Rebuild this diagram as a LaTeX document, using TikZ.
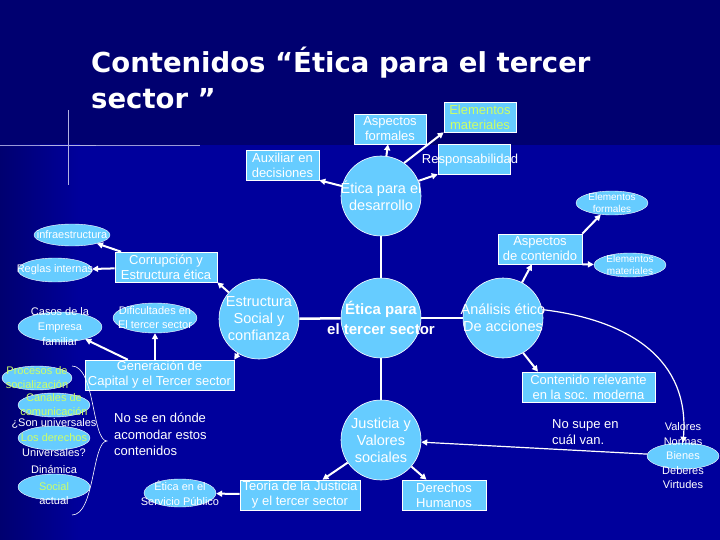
\documentclass[tikz,border=0pt]{standalone}
\usepackage{fontspec}
\setmainfont{Liberation Sans}
\newfontfamily\titlefont{DejaVu Sans}
\usetikzlibrary{shapes.geometric,arrows.meta}
\definecolor{bgtop}{HTML}{000070}
\definecolor{bgmain}{HTML}{00009C}
\definecolor{lb}{HTML}{66CCFF}
\definecolor{ylw}{HTML}{CCFF66}
\tikzset{
 circ/.style={circle,fill=lb,draw=white,line width=0.6pt,minimum size=80pt,inner sep=0pt},
 ctext/.style={text=white,align=center,inner sep=0pt,font=\fontsize{14.5}{17}\selectfont},
 rbox/.style={rectangle,fill=lb,draw=white,line width=0.6pt,inner sep=0pt,text=white,align=center,font=\fontsize{13}{15}\selectfont},
 ell/.style={ellipse,fill=lb,draw=white,line width=0.4pt,inner sep=0pt},
 txt/.style={text=white,align=center,inner sep=0pt,font=\fontsize{11}{14}\selectfont},
 arr/.style={draw=white,line width=2pt,-{Triangle[length=6pt,width=6pt]}},
 lin/.style={draw=white,line width=2.5pt},
}
\begin{document}
\begin{tikzpicture}[x=1pt,y=-1pt]
\useasboundingbox (0,0) rectangle (720,540);
\fill[bgmain] (0,0) rectangle (720,540);
\fill[bgtop] (0,0) rectangle (720,145);
\fill[left color=bgtop,right color=bgmain] (0,145) rectangle (80,540);
\draw[white!60!bgmain,line width=0.5pt] (0,145) -- (200,145);
\draw[white!70!bgmain,line width=0.6pt] (68,110) -- (68,185);
\draw[white!70!bgmain,line width=0.6pt] (40,145) -- (96,145);
% title
\node[anchor=west,text=white,inner sep=0pt,font=\titlefont\bfseries\fontsize{27.5}{30}\selectfont] (t1) at (91,63) {Contenidos “Ética para el tercer};
\node[anchor=west,text=white,inner sep=0pt,font=\titlefont\bfseries\fontsize{27.5}{30}\selectfont] (t2) at (91,99) {sector ”};
% circles
\node[circ] (des) at (381,196) {};
\node[ctext] (dest) at (381,196) {Ética para el\\desarrollo};
\node[circ] (ter) at (381,318) {};
\node[ctext,font=\bfseries\fontsize{15}{20}\selectfont] (tert) at (381,318) {Ética para\\el tercer sector};
\node[circ] (est) at (259,319) {};
\node[ctext] (estt) at (259,319) {Estructura\\Social y\\confianza};
\node[circ] (ana) at (503,318) {};
\node[ctext] (anat) at (503,318) {Análisis ético\\De acciones};
\node[circ] (jus) at (381,440) {};
\node[ctext] (just) at (381,440) {Justicia y\\Valores\\sociales};
% top boxes
\node[rbox,minimum width=72pt,minimum height=30pt] (asf) at (390,129) {Aspectos\\formales};
\node[rbox,minimum width=72pt,minimum height=30pt,text=ylw] (elm) at (480,117) {Elementos\\materiales};
\node[rbox,minimum width=73pt,minimum height=30pt] (aux) at (282.5,165) {Auxiliar en\\decisiones};
\node[rbox,minimum width=72pt,minimum height=30pt] (res) at (474,159) {};
\node[txt,font=\fontsize{13}{15}\selectfont] (rest) at (470,160) {Responsabilidad};
\node[rbox,minimum width=84pt,minimum height=30pt] (asc) at (540,249) {Aspectos\\de contenido};
\node[ell,minimum width=72pt,minimum height=24pt] (elf) at (612,203) {};
\node[txt,font=\fontsize{10}{12}\selectfont] (elft) at (612,203) {Elementos\\formales};
\node[ell,minimum width=72pt,minimum height=24pt] (elm2) at (630,265) {};
\node[txt,font=\fontsize{10}{12}\selectfont] (elm2t) at (630,265) {Elementos\\materiales};
\node[rbox,minimum width=133pt,minimum height=30pt] (con) at (588.5,387) {Contenido relevante\\en la soc. moderna};
\node[rbox,minimum width=84pt,minimum height=30pt] (der) at (444,495) {Derechos\\Humanos};
\node[rbox,minimum width=120pt,minimum height=30pt] (teo) at (300,495) {Teoría de la Justicia\\y el tercer sector};
\node[ell,minimum width=72pt,minimum height=28pt] (ser) at (180,493) {};
\node[txt,font=\fontsize{11}{15}\selectfont] (sert) at (180,493) {Ética en el\\Servicio Público};
\node[ell,minimum width=72pt,minimum height=26pt] (val) at (683,456) {};
\node[txt,font=\fontsize{11}{14.5}\selectfont] (valt) at (683,456) {Valores\\Normas\\Bienes\\Deberes\\Virtudes};
\node[txt,anchor=north west,align=left,font=\fontsize{13}{16}\selectfont] (nos) at (552,419) {No supe en\\cuál van.};
% left side
\node[ell,minimum width=76pt,minimum height=22pt] (inf) at (72,235) {};
\node[txt] (inft) at (72,235) {infraestructura};
\node[ell,minimum width=74pt,minimum height=24pt] (reg) at (55,270) {};
\node[txt] (regt) at (55,270) {Reglas internas};
\node[rbox,minimum width=102pt,minimum height=30pt] (cor) at (166,267) {Corrupción y\\Estructura ética};
\node[ell,minimum width=84pt,minimum height=30pt] (cas) at (60,327) {};
\node[txt,font=\fontsize{11}{15}\selectfont] (cast) at (60,327) {Casos de la\\Empresa\\familiar};
\node[ell,minimum width=84pt,minimum height=30pt] (dif) at (155,318) {};
\node[txt] (dift) at (155,318) {Dificultades en\\El tercer sector};
\node[rbox,minimum width=149pt,minimum height=30pt] (gen) at (159.5,375) {Generación de\\Capital y el Tercer sector};
\node[ell,minimum width=70pt,minimum height=24pt] (pro) at (37,378) {};
\node[txt,text=ylw] (prot) at (37,378) {Procesos de\\socialización};
\node[ell,minimum width=72pt,minimum height=24pt] (can) at (54,405) {};
\node[txt,text=ylw] (cant) at (54,405) {Canales de\\comunicación};
\node[txt] (son) at (54,423) {¿Son universales};
\node[ell,minimum width=72pt,minimum height=24pt] (los) at (54,438) {};
\node[txt,text=ylw] (lost) at (54,438) {Los derechos};
\node[txt] (uni) at (54,453) {Universales?};
\node[ell,minimum width=72pt,minimum height=26pt] (din) at (54,487) {};
\node[txt,text=ylw] (dins) at (54,487) {Social};
\node[txt] (dint) at (54,470) {Dinámica};
\node[txt] (act) at (54,501) {actual};
\node[txt,anchor=north west,align=left,font=\fontsize{13}{16.5}\selectfont] (nose) at (114,413) {No se en dónde\\acomodar estos\\contenidos};
\coordinate (bt) at (72,366);
\coordinate (bm) at (107,441);
\coordinate (bb) at (72,515);
\draw[white,line width=0.6pt] (bt) .. controls (95,366) and (92,441) .. (bm) .. controls (92,441) and (95,515) .. (bb);
% connectors
\draw[lin] (des) -- (ter);
\draw[lin] (est) -- (ter);
\draw[lin] (ter) -- (ana);
\draw[lin] (ter) -- (jus);
\draw[arr] (des) -- (aux.south east);
\draw[arr] (des) -- (asf);
\draw[arr] (des.55) -- (elm.south west);
\draw[arr] (des.22) -- (res.south west);
\draw[arr] (ana) -- (asc);
\draw[arr] (asc.north east) -- (elf);
\draw[arr] (asc.south east) -- (elm2);
\draw[arr] (ana.-60) -- (con.north west -| 538,372);
\draw[arr,line width=1.2pt] (ana.12) .. controls (630,320) and (690,360) .. (val.north);
\draw[arr,line width=1.2pt] (val) -- (jus);
\draw[arr] (jus) -- (teo);
\draw[arr] (jus) -- (der);
\draw[arr] (teo) -- (ser);
\draw[arr] (est) -- (cor.south east);
\draw[arr] (cor) -- (inf);
\draw[arr] (cor) -- (reg);
\draw[arr] (est) -- (gen.north east);
\draw[arr] (gen) -- (cas);
\draw[arr] (gen.north -| dif) -- (dif);
\end{tikzpicture}
\end{document}
